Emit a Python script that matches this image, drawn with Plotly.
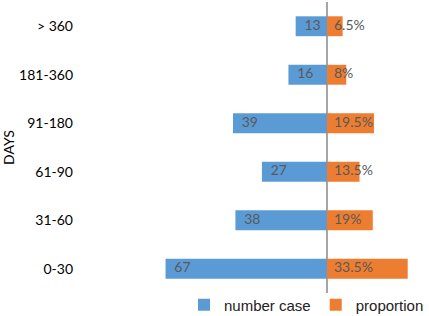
import plotly.graph_objects as go

categories = ["0-30", "31-60", "61-90", "91-180", "181-360", "> 360"]
number_case = [67, 38, 27, 39, 16, 13]
proportion = [33.5, 19, 13.5, 19.5, 8, 6.5]
proportion_labels = ["33.5%", "19%", "13.5%", "19.5%", "8%", "6.5%"]

BLUE = "#5B9BD5"
ORANGE = "#ED7D31"
LABEL = "#595959"
FONT = "Lato, sans-serif"

fig = go.Figure()
fig.add_trace(go.Bar(
    y=categories, x=[-v for v in number_case], orientation="h",
    name="number case", marker=dict(color=BLUE, line=dict(width=0)),
    width=0.41, hoverinfo="skip",
))
fig.add_trace(go.Bar(
    y=categories, x=proportion, orientation="h",
    name="proportion", marker=dict(color=ORANGE, line=dict(width=0)),
    width=0.41, hoverinfo="skip",
))
fig.add_trace(go.Scatter(
    y=categories, x=[-v for v in number_case], mode="text",
    text=["\u2002\u2009" + str(v) for v in number_case], textposition="middle right",
    textfont=dict(family=FONT, size=14, color=LABEL),
    showlegend=False, hoverinfo="skip", cliponaxis=False,
))
fig.add_trace(go.Scatter(
    y=categories, x=[0] * len(categories), mode="text",
    text=["\u2002" + t for t in proportion_labels], textposition="middle right",
    textfont=dict(family=FONT, size=14, color=LABEL),
    showlegend=False, hoverinfo="skip", cliponaxis=False,
))

fig.update_layout(
    width=429, height=316,
    margin=dict(l=80, r=9, t=2, b=23, autoexpand=False),
    paper_bgcolor="white", plot_bgcolor="white",
    barmode="relative",
    showlegend=True,
    legend=dict(
        orientation="h", xref="container", yref="container",
        x=184 / 429, xanchor="left", y=11 / 316, yanchor="middle",
        font=dict(family="Liberation Sans, Arial, sans-serif", size=15, color="#222222"),
        itemwidth=30, tracegroupgap=0, bgcolor="rgba(0,0,0,0)",
    ),
    xaxis=dict(
        range=[-102.5, 38.6], showgrid=False, showticklabels=False, ticks="",
        zeroline=True, zerolinecolor="#A6A6A6", zerolinewidth=2, showline=False,
        fixedrange=True,
    ),
    yaxis=dict(
        type="category", categoryorder="array", categoryarray=categories,
        range=[-0.5, 5.5], showgrid=False, ticks="", showline=False,
        tickfont=dict(family=FONT, size=14, color="#000000"), ticklabelstandoff=6,
        title=dict(text="DAYS", font=dict(family=FONT, size=14, color="#000000"), standoff=6),
        automargin=False, fixedrange=True,
    ),
)

fig.write_html(
    "out.html",
    config={"displayModeBar": False, "staticPlot": True},
    post_script="document.body.style.margin='0';document.body.style.overflow='hidden';",
)
